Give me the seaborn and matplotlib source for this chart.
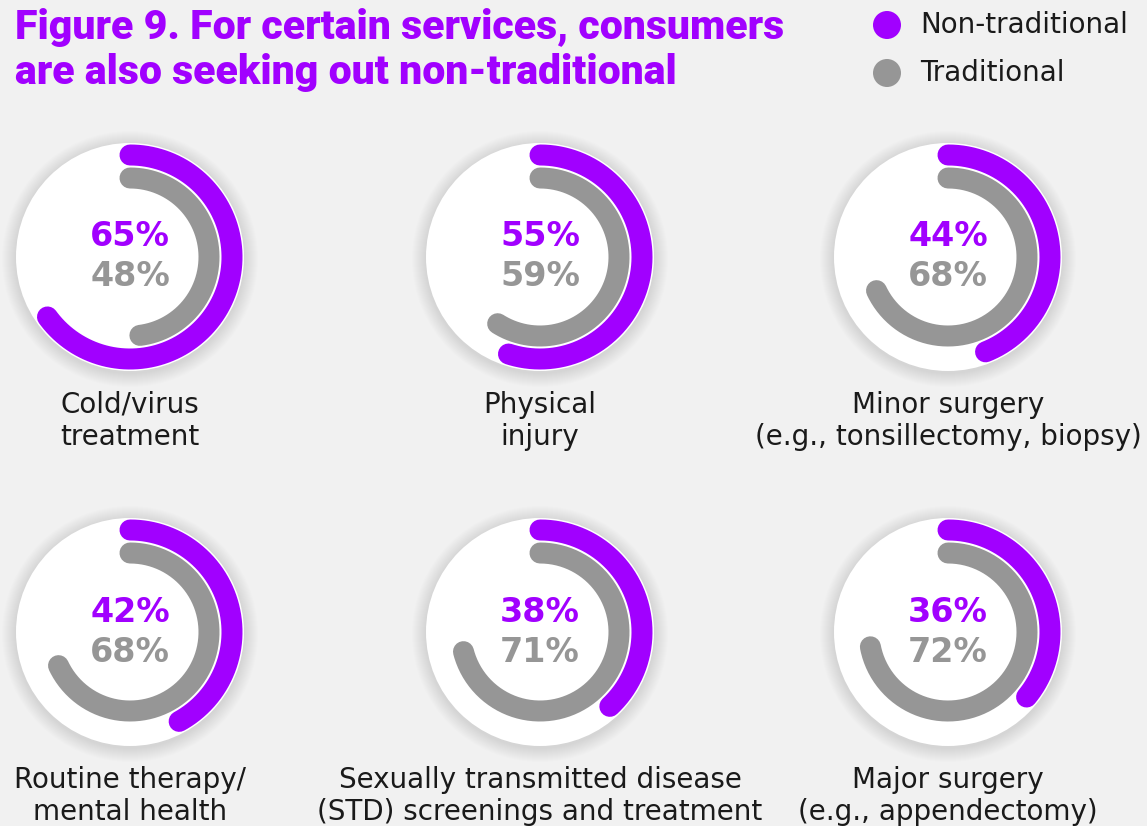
import numpy as np
import pandas as pd
import matplotlib
matplotlib.use("Agg")
import matplotlib.pyplot as plt
from matplotlib.patches import Circle
import seaborn as sns

# ---- data ----
categories = [
    "Cold/virus\ntreatment",
    "Physical\ninjury",
    "Minor surgery\n(e.g., tonsillectomy, biopsy)",
    "Routine therapy/\nmental health",
    "Sexually transmitted disease\n(STD) screenings and treatment",
    "Major surgery\n(e.g., appendectomy)",
]
non_traditional = [65, 55, 44, 42, 38, 36]
traditional = [48, 59, 68, 68, 71, 72]
series_names = ["Non-traditional", "Traditional"]

title = "Figure 9. For certain services, consumers\nare also seeking out non-traditional"

# ---- style ----
PURPLE = "#A100FF"
GRAY = "#969696"
BG = "#F1F1F1"
TXT = "#1a1a1a"

sns.set_theme(style="white")
plt.rcParams["font.family"] = ["DejaVu Sans"]

W, H = 1147, 826
fig = plt.figure(figsize=(W / 100, H / 100), dpi=100, facecolor=BG)
ax = fig.add_axes([0, 0, 1, 1])
ax.set_facecolor(BG)
ax.set_xlim(0, W)
ax.set_ylim(H, 0)
ax.set_axis_off()

centers_x = [130, 540, 948]
centers_y = [257, 632]
R_WHITE = 114
R_OUTER = 102
R_INNER = 79
LW = 21 * 72 / 100  # 21 px


def arc_df(cx, cy, r, pct):
    theta = np.radians(np.linspace(0, pct * 3.6, 300))
    return pd.DataFrame({"x": cx + r * np.sin(theta), "y": cy - r * np.cos(theta)})


for i, cat in enumerate(categories):
    cx = centers_x[i % 3]
    cy = centers_y[i // 3]
    # soft shadow
    for k in range(14, 0, -1):
        ax.add_patch(Circle((cx, cy + 2), R_WHITE + k * 1.0, color="#000000",
                            alpha=0.007, lw=0, zorder=1))
    ax.add_patch(Circle((cx, cy), R_WHITE, color="white", lw=0, zorder=2))

    d1 = arc_df(cx, cy, R_OUTER, non_traditional[i])
    sns.lineplot(data=d1, x="x", y="y", sort=False, estimator=None, color=PURPLE,
                 linewidth=LW, solid_capstyle="round", ax=ax, zorder=3)
    d2 = arc_df(cx, cy, R_INNER, traditional[i])
    sns.lineplot(data=d2, x="x", y="y", sort=False, estimator=None, color=GRAY,
                 linewidth=LW, solid_capstyle="round", ax=ax, zorder=3)

    ax.text(cx, cy - 20, f"{non_traditional[i]}%", color=PURPLE, fontsize=24,
            fontweight="bold", ha="center", va="center", zorder=4)
    ax.text(cx, cy + 20, f"{traditional[i]}%", color=GRAY, fontsize=24,
            fontweight="bold", ha="center", va="center", zorder=4)

    ax.text(cx, cy + 164, cat, color=TXT, fontsize=20, ha="center", va="center",
            linespacing=1.2, zorder=4)

ax.set_xlim(0, W)
ax.set_ylim(H, 0)
ax.set_axis_off()

# title
fig.text(15 / W, 1 - 8 / H, title, color=PURPLE, fontsize=29.5, fontweight="black",
         family=["Roboto", "DejaVu Sans"], ha="left", va="top",
         linespacing=1.2)

# legend
leg_y = [25, 73]
leg_c = [PURPLE, GRAY]
for name, yy, c in zip(series_names, leg_y, leg_c):
    ax.add_patch(Circle((887, yy), 14, color=c, lw=0, zorder=4))
    ax.text(920, yy, name, color=TXT, fontsize=20, ha="left", va="center", zorder=4)

fig.savefig("out.png", dpi=100, facecolor=BG)
